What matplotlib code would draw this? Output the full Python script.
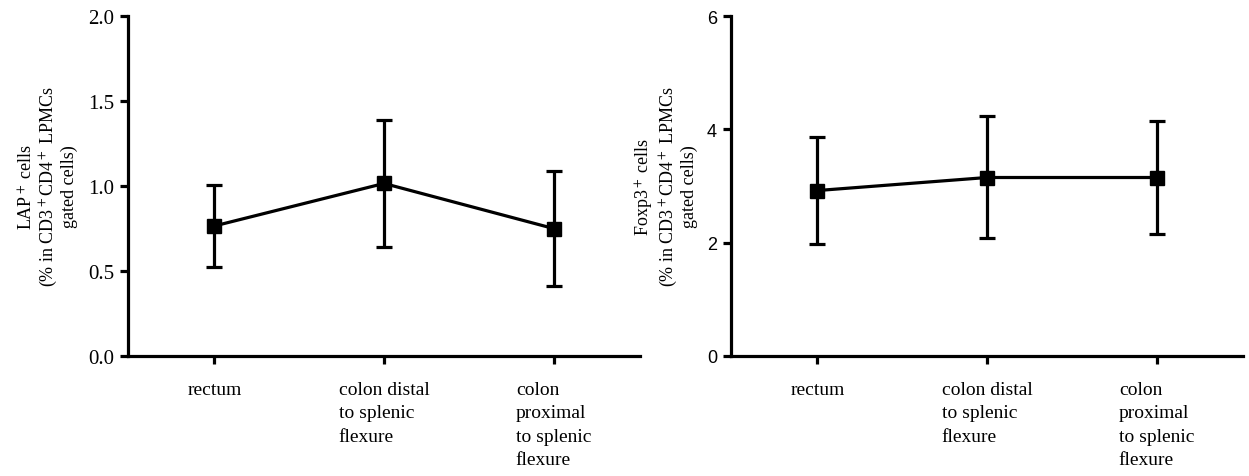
import numpy as np
import matplotlib
matplotlib.use("Agg")
import matplotlib.pyplot as plt

plt.rcParams['mathtext.fontset'] = 'stix'

sites = ["rectum", "colon distal\nto splenic\nflexure", "colon\nproximal\nto splenic\nflexure"]

lap_mean = [0.765, 1.015, 0.75]
lap_upper = [1.005, 1.39, 1.09]
lap_lower = [0.525, 0.64, 0.41]

foxp3_mean = [2.92, 3.15, 3.15]
foxp3_upper = [3.87, 4.23, 4.15]
foxp3_lower = [1.97, 2.08, 2.16]

fig = plt.figure(figsize=(12.49, 4.77), dpi=100)
ax1 = fig.add_axes([128 / 1249, 120 / 477, 512 / 1249, 340 / 477])
ax2 = fig.add_axes([731 / 1249, 120 / 477, 512 / 1249, 340 / 477])


def draw(ax, mean, upper, lower, ylim, yticks, fmt, tickfont, ticksize, ylabel, labelx):
    x = np.arange(len(mean))
    mean = np.array(mean)
    yerr = [mean - np.array(lower), np.array(upper) - mean]
    ax.errorbar(x, mean, yerr=yerr, color='black', lw=2.3, marker='s', ms=10,
                capsize=5.5, capthick=2.3, elinewidth=2.3)
    ax.set_xlim(-0.51, 2.51)
    ax.set_ylim(*ylim)
    ax.set_yticks(yticks)
    ax.set_yticklabels([fmt.format(v) for v in yticks], family=tickfont, fontsize=ticksize)
    ax.set_xticks(x)
    ax.set_xticklabels(sites, family='Liberation Serif', fontsize=14,
                       multialignment='left', linespacing=1.5)
    for s in ['top', 'right']:
        ax.spines[s].set_visible(False)
    for s in ['left', 'bottom']:
        ax.spines[s].set_linewidth(2.3)
    ax.tick_params(axis='both', direction='out', length=6, width=2.3, pad=4)
    ax.tick_params(axis='x', pad=12)
    ax.set_ylabel(ylabel, family='Liberation Serif', fontsize=13, linespacing=1.12,
                  multialignment='center')
    ax.yaxis.set_label_coords(labelx, 0.5)


draw(ax1, lap_mean, lap_upper, lap_lower, (0, 2.0), [0.0, 0.5, 1.0, 1.5, 2.0], "{:.1f}",
     'Liberation Serif', 15, "LAP$^+$ cells\n(% in CD3$^+$CD4$^+$ LPMCs\ngated cells)", -0.098)
draw(ax2, foxp3_mean, foxp3_upper, foxp3_lower, (0, 6), [0, 2, 4, 6], "{:d}",
     'Liberation Sans', 13, "Foxp3$^+$ cells\n(% in CD3$^+$CD4$^+$ LPMCs\ngated cells)", -0.064)

fig.savefig("out.png", dpi=100)
